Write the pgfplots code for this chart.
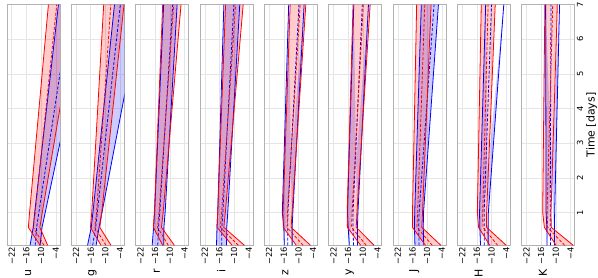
\documentclass[border=0pt]{standalone}
\usepackage{fontspec}
\setmainfont{DejaVu Sans}
\usepackage{pgfplots}
\usepackage{pgfplotstable}
\pgfplotsset{compat=1.18}
\usepgfplotslibrary{groupplots,fillbetween}

\pgfplotstableread{
t rl rm rh bl bm bh
0.05 -10.4 -8.8 -7.3 -14.5 -12.4 -10.4
0.57 -15.2 -13.2 -10.5 -13.2 -11.8 -9.6
1.0 -14.7 -12.4 -9.5 -12.6 -10.9 -8.3
7.0 -7.0 -3.6 4.9 -2.9 2.0 9.7
}\du
\pgfplotstableread{
t rl rm rh bl bm bh
0.05 -11.8 -9.8 -7.7 -17.3 -15.2 -13.8
0.57 -16.1 -14.3 -12.3 -15.8 -14.0 -12.6
1.0 -15.6 -13.6 -11.5 -15.1 -13.3 -11.4
7.0 -10.7 -7.8 -2.4 -6.3 -3.9 4.9
}\dg
\pgfplotstableread{
t rl rm rh bl bm bh
0.05 -12.9 -10.6 -8.1 -17.2 -14.9 -12.5
0.57 -16.7 -15.0 -13.4 -16.6 -14.6 -12.4
1.0 -16.3 -14.4 -12.7 -16.2 -14.1 -11.9
7.0 -12.9 -8.4 -5.4 -12.5 -8.8 -7.0
}\dr
\pgfplotstableread{
t rl rm rh bl bm bh
0.05 -10.8 -8.3 -5.8 -17.2 -15.1 -13.1
0.57 -17.0 -15.6 -14.2 -17.0 -15.0 -13.0
1.0 -16.7 -15.1 -13.6 -16.7 -14.6 -12.6
7.0 -13.5 -9.4 -6.3 -14.2 -10.1 -7.7
}\di
\pgfplotstableread{
t rl rm rh bl bm bh
0.05 -10.9 -8.1 -5.1 -15.8 -14.4 -12.6
0.57 -16.2 -14.7 -13.0 -16.0 -14.4 -12.6
1.0 -16.3 -14.5 -12.6 -16.6 -14.3 -12.3
7.0 -13.4 -9.3 -7.0 -14.0 -9.8 -7.7
}\dz
\pgfplotstableread{
t rl rm rh bl bm bh
0.05 -10.9 -8.6 -5.4 -15.5 -13.8 -12.2
0.57 -16.3 -14.6 -12.7 -16.0 -14.0 -12.2
1.0 -16.4 -14.4 -12.4 -16.3 -14.0 -12.0
7.0 -14.0 -9.8 -7.0 -13.7 -10.2 -7.7
}\dy
\pgfplotstableread{
t rl rm rh bl bm bh
0.05 -10.7 -7.9 -4.4 -15.0 -13.3 -11.4
0.57 -16.0 -14.2 -12.2 -15.2 -13.5 -11.6
1.0 -16.0 -13.9 -11.9 -15.1 -13.3 -11.5
7.0 -14.3 -11.0 -8.4 -12.4 -7.2 -5.4
}\dJ
\pgfplotstableread{
t rl rm rh bl bm bh
0.05 -10.7 -7.5 -4.0 -14.5 -13.0 -11.4
0.57 -15.3 -13.5 -12.0 -14.8 -13.0 -11.4
1.0 -15.8 -13.6 -12.0 -14.9 -13.0 -11.3
7.0 -14.2 -11.4 -8.5 -12.4 -10.0 -5.0
}\dH
\pgfplotstableread{
t rl rm rh bl bm bh
0.05 -9.9 -6.4 -2.9 -13.6 -12.2 -10.6
0.57 -14.7 -13.4 -11.9 -13.7 -12.3 -10.6
1.0 -15.4 -13.6 -12.0 -14.0 -12.3 -10.5
7.0 -14.5 -11.3 -9.4 -14.2 -12.0 -8.5
}\dK

\newcommand{\panel}[1]{%
  \addplot[draw=none, name path=BL] table[x=bl,y=t]{#1};
  \addplot[draw=none, name path=BH] table[x=bh,y=t]{#1};
  \addplot[draw=none, name path=RL] table[x=rl,y=t]{#1};
  \addplot[draw=none, name path=RH] table[x=rh,y=t]{#1};
  \addplot[blue, fill opacity=0.2, draw=none] fill between[of=BL and BH];
  \addplot[red, fill opacity=0.2, draw=none] fill between[of=RL and RH];
  \addplot[blue, line width=0.8bp] table[x=bl,y=t]{#1};
  \addplot[blue, line width=0.8bp] table[x=bh,y=t]{#1};
  \addplot[blue, line width=0.8bp, dash pattern=on 3bp off 1.8bp] table[x=bm,y=t]{#1};
  \addplot[red, line width=0.8bp] table[x=rl,y=t]{#1};
  \addplot[red, line width=0.8bp] table[x=rh,y=t]{#1};
  \addplot[red, line width=0.8bp, dash pattern=on 3bp off 1.8bp] table[x=rm,y=t]{#1};
}
\newcommand{\lab}[1]{\rotatebox{90}{#1}}

\begin{document}
\begin{tikzpicture}
\begin{groupplot}[
  group style={group size=9 by 1, horizontal sep=11.3bp},
  scale only axis, width=53.4bp, height=242bp,
  xmin=-24.0, xmax=-2.3, ymin=0.05, ymax=7,
  xtick={-22,-16,-10,-4}, xticklabels={−22,−16,−10,−4},
  ytick={1,2,3,4,5,6,7}, yticklabels={},
  grid=major, grid style={draw=black!10, line width=0.5bp},
  axis line style={draw=black!30, line width=0.6bp},
  major tick length=0pt,
  /pgf/number format/assume math mode=true,
  tick label style={font=\fontsize{8.4bp}{9bp}\selectfont},
  xticklabel style={rotate=90, anchor=east, inner sep=1.5bp},
  xlabel style={at={(axis description cs:0.40,-0.099)}, anchor=north, rotate=0,
    font=\fontsize{11bp}{12bp}\selectfont, inner sep=0pt},
  every axis plot/.append style={forget plot},
]
\nextgroupplot[xlabel={\lab{u}}]
\panel{\du}
\nextgroupplot[xlabel={\lab{g}}]
\panel{\dg}
\nextgroupplot[xlabel={\lab{r}}]
\panel{\dr}
\nextgroupplot[xlabel={\lab{i}}]
\panel{\di}
\nextgroupplot[xlabel={\lab{z}}]
\panel{\dz}
\nextgroupplot[xlabel={\lab{y}}]
\panel{\dy}
\nextgroupplot[xlabel={\lab{J}}]
\panel{\dJ}
\nextgroupplot[xlabel={\lab{H}}]
\panel{\dH}
\nextgroupplot[xlabel={\lab{K}}, yticklabel pos=right, yticklabels={1,2,3,4,5,6,7},
  yticklabel style={rotate=90, anchor=north, inner sep=2bp},
  ylabel={Time [days]}, ylabel style={font=\fontsize{11bp}{12bp}\selectfont, inner sep=1bp}]
\panel{\dK}
\end{groupplot}
\end{tikzpicture}
\end{document}
